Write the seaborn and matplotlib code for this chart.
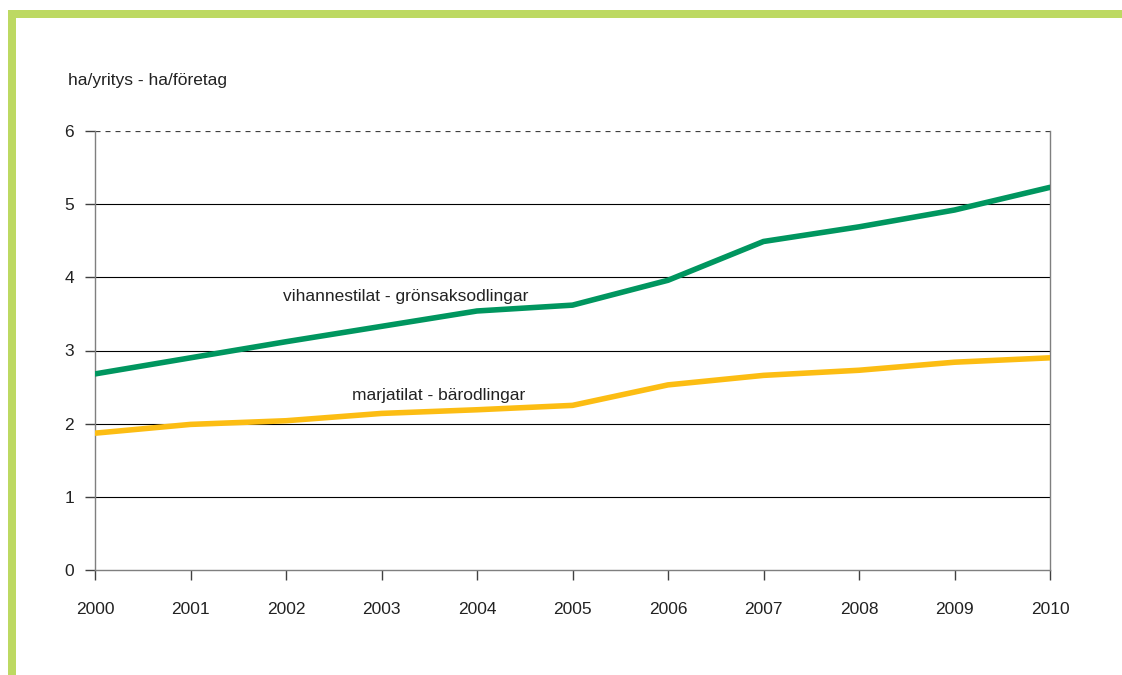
import matplotlib.pyplot as plt
import pandas as pd
import seaborn as sns
from matplotlib.patches import Rectangle

years = list(range(2000, 2011))
vihannes = [2.68, 2.90, 3.12, 3.33, 3.54, 3.62, 3.96, 4.49, 4.69, 4.92, 5.23]
marja = [1.87, 1.99, 2.04, 2.14, 2.19, 2.25, 2.53, 2.66, 2.73, 2.84, 2.90]
series_names = ["vihannestilat - grönsaksodlingar", "marjatilat - bärodlingar"]
y_ticks = [0, 1, 2, 3, 4, 5, 6]

GREEN = "#00965f"
YELLOW = "#fcbd13"
FRAME = "#bdd962"
AXIS = "#7f7f7f"

df = pd.DataFrame({
    "year": years * 2,
    "value": vihannes + marja,
    "series": [series_names[0]] * len(years) + [series_names[1]] * len(years),
})

sns.set_theme(style="white")
plt.rcParams["font.family"] = ["Liberation Sans Narrow", "Liberation Sans", "DejaVu Sans"]

fig = plt.figure(figsize=(11.22, 6.75), dpi=100)
W, H = 1122, 675
ax = fig.add_axes([95 / W, 1 - 570 / H, (1050 - 95) / W, (570 - 131) / H])

sns.lineplot(data=df, x="year", y="value", hue="series",
             palette={series_names[0]: GREEN, series_names[1]: YELLOW},
             linewidth=4, legend=False, ax=ax, zorder=3)

ax.set_xlim(2000, 2010)
ax.set_ylim(0, 6)
ax.set_xticks(years)
ax.set_xticklabels([str(y) for y in years])
ax.set_yticks(y_ticks)
ax.set_xlabel("")
ax.set_ylabel("")

for v in y_ticks[1:-1]:
    ax.axhline(v, color="black", linewidth=0.8, zorder=1)
ax.axhline(6, color="#404040", linewidth=0.9, linestyle=(0, (4, 4)), zorder=1)

for side in ["left", "bottom", "right"]:
    ax.spines[side].set_visible(True)
    ax.spines[side].set_color(AXIS)
    ax.spines[side].set_linewidth(1.0)
ax.spines["top"].set_visible(False)

ax.tick_params(axis="both", which="both", direction="out", length=7, width=1,
               color="#404040", labelsize=12.5, labelcolor="#222222")
ax.tick_params(axis="y", pad=8, left=True)
ax.tick_params(axis="x", pad=16, bottom=True)

ax.text(2003.25, 3.74, series_names[0], ha="center", va="center",
        fontsize=12.5, color="#222222")
ax.text(2003.6, 2.39, series_names[1], ha="center", va="center",
        fontsize=12.5, color="#222222")

fig.text(68 / W, 1 - 80 / H, "ha/yritys - ha/företag", ha="left", va="center",
         fontsize=12.5, color="#222222")

# light green frame on top and left
fig.patches.append(Rectangle((8 / W, 0), 8 / W, 1 - 10 / H, transform=fig.transFigure,
                             facecolor=FRAME, edgecolor="none"))
fig.patches.append(Rectangle((8 / W, 1 - 18 / H), 1 - 8 / W, 8 / H, transform=fig.transFigure,
                             facecolor=FRAME, edgecolor="none"))

fig.savefig("out.png", dpi=100)
